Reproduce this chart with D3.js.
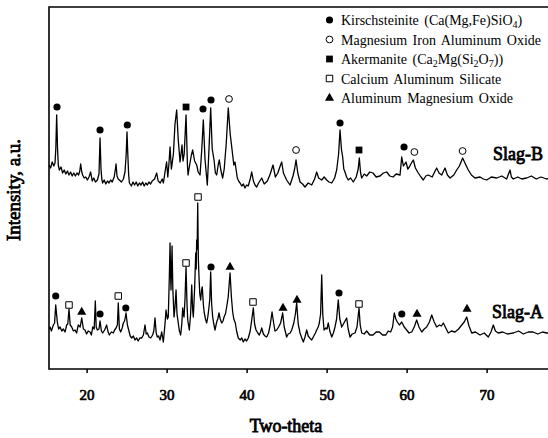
<!DOCTYPE html>
<html>
<head>
<meta charset="utf-8">
<title>XRD slag</title>
<script src="https://d3js.org/d3.v7.min.js"></script>
<style>
  body { margin: 0; background: #fff; }
  svg text { font-family: "Liberation Serif", "Times New Roman", Times, serif; fill: #000; }
</style>
</head>
<body>
<div id="chart"></div>
<script>

let W = 548, H = 438;
let plot = {left: 49, top: 7, bottom: 369};

let xTicks = [20, 30, 40, 50, 60, 70];

// [two-theta, intensity a.u.]
let slagB = [
  [15.3,204],[15.5,201],[15.7,207],[15.9,203],[16.05,206],[16.15,220],[16.26,254],[16.36,222],[16.46,204],
  [16.6,199],[16.8,202],[17.0,196],[17.2,199],[17.4,195],[17.6,198],[17.8,194],[18.0,197],[18.2,193],
  [18.4,196],[18.6,193],[18.8,196],[19.0,194],[19.15,198],[19.26,205],[19.4,197],[19.5,194],[19.7,191],
  [19.9,192],[20.1,189],[20.3,192],[20.51,197],[20.7,188],[20.9,191],[21.1,187],[21.35,189],[21.55,195],
  [21.68,231],[21.8,200],[21.9,190],[22.0,186],[22.2,189],[22.4,185],[22.6,188],[22.8,186],[23.0,189],
  [23.2,187],[23.45,192],[23.6,200],[23.68,205],[23.8,193],[23.95,190],[24.1,189],[24.35,187],[24.6,190],
  [24.8,197],[24.95,215],[25.05,237],[25.15,215],[25.25,195],[25.35,186],[25.6,183],[25.8,187],[26.0,184],
  [26.2,187],[26.4,183],[26.6,186],[26.8,184],[27.0,187],[27.2,183],[27.4,186],[27.6,184],[27.8,187],
  [28.0,185],[28.2,188],[28.5,190],[28.76,196],[28.95,188],[29.2,186],[29.45,190],[29.6,186],[29.8,197],
  [30.0,207],[30.15,192],[30.3,206],[30.43,222],[30.6,200],[30.85,215],[31.05,245],[31.26,259],[31.45,230],
  [31.68,207],[31.8,215],[31.93,224],[32.05,208],[32.2,215],[32.43,254],[32.6,205],[32.68,194],[32.9,205],
  [33.1,214],[33.26,219],[33.5,208],[33.76,204],[33.95,197],[34.18,194],[34.4,220],[34.59,249],[34.8,210],
  [35.09,184],[35.3,220],[35.51,261],[35.7,220],[35.93,209],[36.1,196],[36.26,194],[36.45,204],[36.59,209],
  [36.8,198],[37.01,191],[37.2,200],[37.45,225],[37.71,261],[37.95,235],[38.26,214],[38.4,204],[38.55,207],
  [38.84,191],[39.0,188],[39.18,186],[39.4,183],[39.6,185],[39.8,181],[40.0,184],[40.2,183],[40.45,190],
  [40.64,197],[40.85,188],[41.05,184],[41.26,182],[41.5,186],[41.89,191],[42.2,185],[42.6,188],[42.95,195],
  [43.3,204],[43.6,192],[43.9,196],[44.2,203],[44.39,207],[44.6,196],[45.0,189],[45.43,184],[45.8,193],
  [46.0,200],[46.18,209],[46.4,196],[46.68,187],[47.0,185],[47.3,182],[47.7,186],[48.14,184],[48.5,190],
  [48.76,197],[49.0,191],[49.39,189],[49.7,192],[50.01,189],[50.3,187],[50.64,186],[51.0,191],[51.26,199],
  [51.5,215],[51.68,239],[51.85,220],[52.01,212],[52.15,200],[52.3,197],[52.5,192],[52.71,189],[53.0,191],
  [53.34,187],[53.7,192],[53.95,200],[54.09,211],[54.25,196],[54.39,191],[54.7,195],[55.01,193],[55.4,197],
  [55.8,196],[56.2,192],[56.68,193],[57.1,196],[57.51,197],[57.9,193],[58.3,192],[58.7,195],[59.18,194],
  [59.39,212],[59.6,203],[59.93,207],[60.15,200],[60.34,202],[60.6,206],[60.84,209],[61.1,201],[61.46,196],
  [61.8,192],[62.09,189],[62.4,193],[62.71,194],[63.2,192],[63.5,197],[63.76,201],[64.05,196],[64.39,194],
  [64.8,201],[65.1,194],[65.43,191],[65.9,194],[66.26,199],[66.6,203],[67.01,211],[67.35,205],[67.71,199],
  [68.1,194],[68.55,191],[69.18,192],[69.6,190],[70.01,189],[70.6,192],[71.26,191],[71.9,193],[72.5,190],
  [72.93,199],[73.1,192],[73.34,190],[73.9,192],[74.4,190],[75.01,191],[75.6,193],[76.2,190],[76.8,192],
  [77.5,190],[78.0,191]
];

let slagA = [
  [15.3,40],[15.43,42],[15.6,38],[15.84,44],[16.0,46],[16.14,64],[16.34,47],[16.5,40],[16.68,42],[16.9,38],
  [17.09,40],[17.3,37],[17.51,44],[17.65,45],[17.8,60],[17.95,44],[18.14,42],[18.35,38],[18.55,39],[18.75,36],
  [18.96,44],[19.2,42],[19.39,51],[19.6,40],[19.8,39],[20.0,35],[20.2,38],[20.43,37],[20.6,34],[20.76,42],
  [20.95,40],[21.09,68],[21.2,42],[21.34,39],[21.55,40],[21.68,48],[21.85,38],[22.01,36],[22.25,39],[22.51,44],
  [22.65,38],[22.84,34],[23.1,37],[23.34,36],[23.5,39],[23.68,41],[23.85,44],[23.96,66],[24.1,40],[24.26,37],
  [24.45,41],[24.59,46],[24.75,48],[24.93,56],[25.1,44],[25.26,39],[25.45,33],[25.64,31],[25.85,33],[26.05,29],
  [26.26,31],[26.45,28],[26.65,31],[26.89,31],[27.1,34],[27.3,44],[27.45,35],[27.59,36],[27.8,32],[28.01,31],
  [28.25,34],[28.4,38],[28.55,51],[28.7,36],[28.84,32],[29.0,33],[29.18,29],[29.39,37],[29.59,27],[29.8,45],
  [29.93,59],[30.1,50],[30.21,52],[30.35,95],[30.43,126],[30.5,95],[30.55,79],[30.62,100],[30.68,123],[30.78,80],
  [30.93,52],[31.05,62],[31.18,79],[31.3,55],[31.46,46],[31.6,38],[31.76,34],[31.9,45],[32.01,61],[32.1,55],
  [32.18,52],[32.3,70],[32.43,102],[32.55,65],[32.64,49],[32.84,39],[33.0,55],[33.14,84],[33.25,60],[33.34,52],
  [33.5,80],[33.64,116],[33.7,100],[33.76,129],[33.82,120],[33.89,166],[33.97,110],[34.05,92],[34.15,75],[34.26,69],
  [34.36,78],[34.46,82],[34.6,64],[34.71,56],[34.86,50],[35.01,46],[35.15,52],[35.26,59],[35.4,70],[35.51,97],
  [35.63,65],[35.76,52],[35.9,45],[36.05,39],[36.26,47],[36.4,50],[36.55,56],[36.7,50],[36.89,46],[37.05,48],
  [37.18,52],[37.35,55],[37.51,62],[37.7,72],[37.93,96],[38.1,72],[38.26,57],[38.4,50],[38.59,46],[38.75,38],
  [38.96,31],[39.2,29],[39.4,31],[39.59,27],[39.8,30],[40.0,28],[40.21,31],[40.45,38],[40.64,49],[40.84,61],
  [41.0,45],[41.18,39],[41.4,36],[41.59,34],[41.75,37],[41.89,41],[42.1,35],[42.3,33],[42.51,32],[42.75,36],
  [42.95,44],[43.18,57],[43.4,45],[43.55,38],[43.76,39],[44.0,42],[44.25,46],[44.51,56],[44.7,42],[45.01,32],
  [45.2,35],[45.45,36],[45.64,39],[45.9,46],[46.1,55],[46.26,66],[46.45,45],[46.68,36],[46.9,31],[47.09,27],
  [47.3,32],[47.51,39],[47.7,33],[47.9,31],[48.14,29],[48.4,33],[48.6,36],[48.76,39],[48.95,42],[49.09,46],
  [49.25,55],[49.39,94],[49.52,55],[49.68,39],[49.9,41],[50.05,40],[50.21,46],[50.4,38],[50.64,32],[50.85,36],
  [51.05,42],[51.25,50],[51.46,69],[51.65,50],[51.89,42],[52.1,45],[52.3,48],[52.51,51],[52.7,40],[52.93,32],
  [53.2,35],[53.55,36],[53.8,42],[54.05,61],[54.2,44],[54.39,36],[54.7,35],[55.01,38],[55.4,34],[55.8,34],
  [56.2,37],[56.6,37],[57.0,34],[57.4,34],[57.7,38],[58.0,37],[58.25,42],[58.46,56],[58.65,50],[58.84,47],
  [59.1,44],[59.39,47],[59.7,42],[60.01,39],[60.3,36],[60.64,37],[60.95,42],[61.26,49],[61.55,42],[61.89,37],
  [62.2,40],[62.51,42],[62.85,47],[63.14,54],[63.45,47],[63.76,42],[64.1,44],[64.35,43],[64.59,46],[64.9,41],
  [65.21,36],[65.6,38],[66.05,37],[66.5,40],[66.89,44],[67.2,47],[67.51,52],[67.8,43],[68.14,36],[68.6,37],
  [69.18,34],[69.7,36],[70.21,32],[70.55,37],[70.84,44],[71.1,38],[71.46,36],[72.0,37],[72.6,35],[73.34,36],
  [74.0,38],[74.6,35],[75.2,37],[75.8,37],[76.4,35],[77.0,37],[77.5,36],[78.0,36]
];

// phase marks: [phase, two-theta, intensity]
let marksB = [
  ["K",16.3,262],["K",21.68,239],["K",25.09,244],["Ak",32.43,262],["K",34.55,260],["K",35.55,269],
  ["M",37.8,270],["M",46.18,219],["K",51.68,246],["Ak",54.05,219],["K",59.68,222],["M",60.97,217],["M",67.0,218]
];
let marksA = [
  ["K",16.14,73],["C",17.8,64],["T",19.39,57],["K",21.68,55],["C",23.96,73],["K",24.9,61],["C",32.43,106],
  ["C",33.93,172],["K",35.55,102],["T",37.93,102],["C",40.8,67],["T",44.55,61],["T",46.3,69],["K",51.55,76],
  ["C",54.05,65],["K",59.4,55],["T",61.3,55],["T",67.55,60]
];

let phaseKeys = ["K", "M", "Ak", "C", "T"];
let phaseLabels = [
  [["Kirschsteinite (Ca(Mg,Fe)SiO", 0], ["4", 1], [")", 0]],
  [["Magnesium Iron Aluminum Oxide", 0]],
  [["Akermanite (Ca", 0], ["2", 1], ["Mg(Si", 0], ["2", 1], ["O", 0], ["7", 1], ["))", 0]],
  [["Calcium Aluminum Silicate", 0]],
  [["Aluminum Magnesium Oxide", 0]]
];

let symbolOf = {K: d3.symbolCircle, M: d3.symbolCircle, Ak: d3.symbolSquare, C: d3.symbolSquare, T: d3.symbolTriangle};
let sizeOf = {K: 40, M: 36, Ak: 46, C: 42, T: 36};
let filled = {K: true, M: false, Ak: true, C: false, T: true};

let serif = '"Liberation Serif", "Times New Roman", Times, serif';

let svg = d3.select("#chart").append("svg")
  .attr("width", W).attr("height", H);

let x = d3.scaleLinear().domain([15.3, 78]).range([plot.left, plot.left + 62.7 * 8]);
let y = d3.scaleLinear().domain([0, 362]).range([plot.bottom, plot.top]);

svg.append("clipPath").attr("id", "clip")
  .append("rect").attr("x", plot.left).attr("y", plot.top)
  .attr("width", W - plot.left).attr("height", plot.bottom - plot.top);

let line = d3.line().x(d => x(d[0])).y(d => y(d[1]));

[slagA, slagB].forEach(s => {
  svg.append("path")
    .attr("d", line(s))
    .attr("clip-path", "url(#clip)")
    .attr("fill", "none")
    .attr("stroke", "#000")
    .attr("stroke-width", 1.3)
    .attr("stroke-linejoin", "round");
});

function drawMark(sel, key) {
  sel.attr("d", d3.symbol().type(symbolOf[key]).size(sizeOf[key]))
    .attr("fill", filled[key] ? "#000" : "#fff")
    .attr("stroke", "#000")
    .attr("stroke-width", filled[key] ? 0 : 1);
}

marksB.concat(marksA).forEach(m => {
  svg.append("path")
    .attr("transform", "translate(" + x(m[1]) + "," + y(m[2]) + ")")
    .call(drawMark, m[0]);
});

// frame: top, left and bottom (right side runs off the picture)
svg.append("path")
  .attr("d", "M" + (W + 2) + "," + plot.top + "H" + plot.left + "V" + plot.bottom + "H" + (W + 2))
  .attr("fill", "none").attr("stroke", "#000").attr("stroke-width", 1.6);

// bold serif face is missing, so thicken the regular one with a stroke
function boldText(t, size) {
  return t.style("font-family", serif).style("font-size", size + "px")
    .style("font-weight", "400")
    .attr("fill", "#000").attr("stroke", "#000").attr("stroke-width", size > 16 ? 0.8 : 0.7);
}

let xAxis = svg.append("g")
  .attr("transform", "translate(0," + plot.bottom + ")")
  .call(d3.axisBottom(x).tickValues(xTicks).tickSize(4).tickPadding(16));
xAxis.attr("font-family", null).attr("font-size", null);
xAxis.select(".domain").remove();
xAxis.selectAll("line").attr("stroke", "#000").attr("stroke-width", 1.5);
xAxis.selectAll("text").call(boldText, 15);

boldText(svg.append("text")
  .attr("x", 286).attr("y", 432)
  .attr("text-anchor", "middle"), 18)
  .text("Two-theta");

boldText(svg.append("text")
  .attr("transform", "translate(20,190) rotate(-90)")
  .attr("text-anchor", "middle"), 19)
  .text("Intensity, a.u.");

boldText(svg.append("text").attr("x", 493).attr("y", 160), 18).text("Slag-B");
boldText(svg.append("text").attr("x", 492).attr("y", 318), 18).text("Slag-A");

// legend
let legend = svg.append("g");
phaseKeys.forEach((k, i) => {
  let cy = 20 + i * 19.5;
  legend.append("path")
    .attr("transform", "translate(329.5," + cy + ")")
    .call(drawMark, k);
  let t = legend.append("text")
    .attr("x", 341).attr("y", cy + 5)
    .style("font-family", serif)
    .style("font-size", "14px")
    .attr("word-spacing", 2);
  let down = false;
  phaseLabels[i].forEach(p => {
    let sp = t.append("tspan").text(p[0]);
    if (p[1]) { sp.style("font-size", "10px").attr("dy", 3); down = true; }
    else if (down) { sp.attr("dy", -3); down = false; }
  });
});

</script>
</body>
</html>
